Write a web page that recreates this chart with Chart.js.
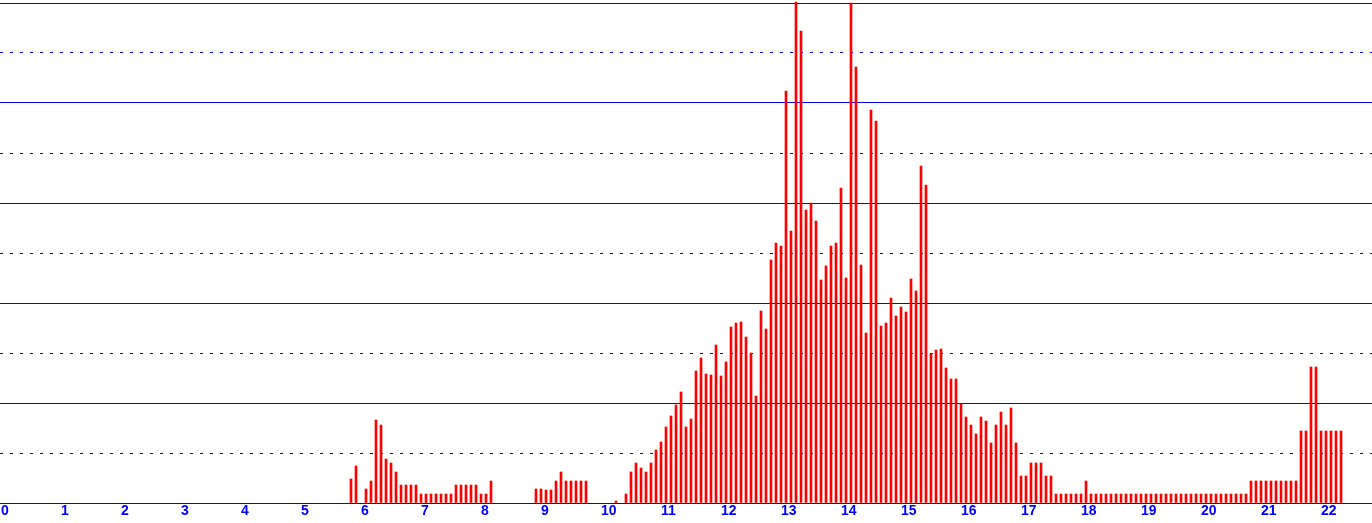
<!DOCTYPE html>
<html>
<head>
<meta charset="utf-8">
<script src="https://cdn.jsdelivr.net/npm/chart.js@4/dist/chart.umd.min.js"></script>
<style>
  html, body { margin: 0; padding: 0; background: #fff; }
  canvas { display: block; }
</style>
</head>
<body>
<canvas id="chart" width="1372" height="523"></canvas>
<script>
  'use strict';

  // x axis is hours of the day, one bar per 5 minute interval
  var hourTicks = [0, 1, 2, 3, 4, 5, 6, 7, 8, 9, 10, 11, 12, 13, 14, 15, 16, 17, 18, 19, 20, 21, 22];
  var startTime = '05:50';
  var stepMinutes = 5;

  // y scale: 0..100, grid every 10 (solid / dashed alternating)
  var yTicks = { min: 0, max: 100, step: 10 };

  var counts = [
    4.8, 7.4, 0, 2.8, 4.4, 16.6, 15.6, 8.8, 8, 6.2,
    3.6, 3.6, 3.6, 3.6, 1.8, 1.8, 1.8, 1.8, 1.8, 1.8,
    1.8, 3.6, 3.6, 3.6, 3.6, 3.6, 1.8, 1.8, 4.4, 0,
    0, 0, 0, 0, 0, 0, 0, 2.8, 2.8, 2.6,
    2.6, 4.4, 6.2, 4.4, 4.4, 4.4, 4.4, 4.4, 0, 0,
    0, 0, 0, 0.4, 0, 1.8, 6.2, 8, 7, 6.2,
    8, 10.6, 12.2, 15.2, 17.4, 19.6, 22.2, 15.2, 16.8, 26.4,
    29, 25.8, 25.6, 31.6, 25.4, 28.2, 35.2, 36, 36.2, 33.2,
    30, 21.4, 38.4, 34.8, 48.6, 52, 51.4, 82.4, 54.4, 100.2,
    94.4, 58.6, 60, 56.4, 44.6, 47.4, 51.4, 52, 63, 45,
    100, 87.2, 47.6, 34, 78.6, 76.4, 35.4, 36, 41, 37.4,
    39.2, 38.2, 44.8, 42.4, 67.4, 63.6, 29.8, 30.6, 30.8, 27,
    24.8, 24.8, 19.8, 17.2, 15.6, 13.8, 17.2, 16.4, 12, 15.6,
    18.2, 15.6, 19, 12, 5.4, 5.4, 8, 8, 8, 5.4,
    5.4, 1.8, 1.8, 1.8, 1.8, 1.8, 1.8, 4.4, 1.8, 1.8,
    1.8, 1.8, 1.8, 1.8, 1.8, 1.8, 1.8, 1.8, 1.8, 1.8,
    1.8, 1.8, 1.8, 1.8, 1.8, 1.8, 1.8, 1.8, 1.8, 1.8,
    1.8, 1.8, 1.8, 1.8, 1.8, 1.8, 1.8, 1.8, 1.8, 1.8,
    4.4, 4.4, 4.4, 4.4, 4.4, 4.4, 4.4, 4.4, 4.4, 4.4,
    14.4, 14.4, 27.2, 27.2, 14.4, 14.4, 14.4, 14.4, 14.4
  ];

  var gridBlue = '#0000FF';
  var barRed = '#FF0000';

  var parts = startTime.split(':');
  var startMinutes = parseInt(parts[0], 10) * 60 + parseInt(parts[1], 10);
  var points = counts.map(function (v, i) {
    return { x: (startMinutes + i * stepMinutes) / 60, y: v > 0 ? v : null };
  });

  var ctx = document.getElementById('chart').getContext('2d');
  window.myBars = new Chart(ctx, {
    type: 'bar',
    data: {
      datasets: [{
        data: points,
        backgroundColor: barRed,
        borderWidth: 0,
        barThickness: 2,
        clip: false
      }]
    },
    options: {
      responsive: false,
      animation: false,
      devicePixelRatio: 1,
      layout: { padding: { top: 3, left: 0, right: 0, bottom: 0 } },
      plugins: {
        legend: { display: false },
        tooltip: { enabled: false }
      },
      scales: {
        x: {
          type: 'linear',
          offset: false,
          min: -1 / 60,
          max: 1371 / 60,
          grid: { display: false, offset: false, drawTicks: false },
          border: { display: false },
          afterBuildTicks: function (scale) {
            scale.ticks = hourTicks.map(function (h) { return { value: h }; });
          },
          afterFit: function (scale) {
            scale.height = 20;
          },
          ticks: {
            align: 'start',
            padding: 0,
            autoSkip: false,
            maxRotation: 0,
            color: gridBlue,
            font: { family: 'Liberation Sans', size: 14, weight: 'bold' },
            callback: function (v) { return String(v); }
          }
        },
        y: {
          min: yTicks.min,
          max: yTicks.max,
          grid: {
            color: gridBlue,
            lineWidth: 1,
            drawTicks: false
          },
          border: {
            display: false,
            dash: function (c) {
              return (c.index % 2 === 1) ? [3, 7] : [];
            }
          },
          ticks: { display: false, stepSize: yTicks.step }
        }
      }
    }
  });
</script>
</body>
</html>
